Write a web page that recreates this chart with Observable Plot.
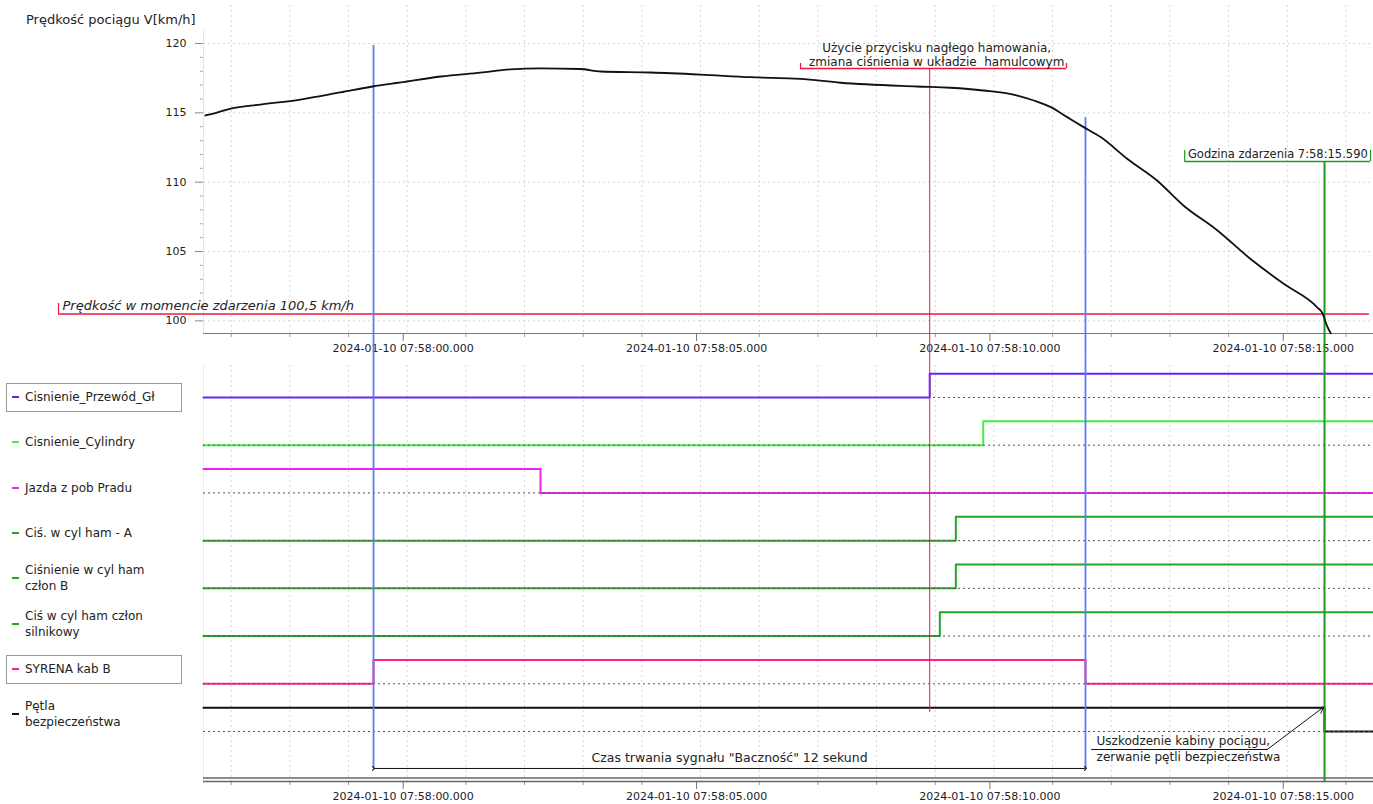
<!DOCTYPE html>
<html>
<head>
<meta charset="utf-8">
<script src="https://cdn.jsdelivr.net/npm/d3@7"></script>
<script src="https://cdn.jsdelivr.net/npm/@observablehq/plot@0.6"></script>
<style>
  body { margin: 0; background: #fff; }
  #root { position: relative; width: 1373px; height: 804px; overflow: hidden;
          font-family: "DejaVu Sans", Verdana, sans-serif; color: #222; }
  #root > svg { position: absolute; left: 0; overflow: visible; }
  .title { position: absolute; left: 26px; top: 12px; font-size: 13px; line-height: 16px; white-space: nowrap; }
  .lg-box { position: absolute; left: 6px; width: 174px; height: 27px; border: 1px solid #9a9a9a; }
  .lg-dash { position: absolute; left: 12px; width: 7px; height: 2px; }
  .lg-text { position: absolute; left: 25px; font-size: 12px; line-height: 16px; white-space: nowrap; transform: translateY(-50%); }
</style>
</head>
<body>
<div id="root"></div>
<script>
// ---------- data (times are seconds after 2024-01-10 07:58:00.000 UTC) ----------
const timeWindow = [-3.472, 16.47];
const majorTimeTicks = [0, 5, 10, 15];
const minorTimeTicks = [-3, -2, -1, 0, 1, 2, 3, 4, 5, 6, 7, 8, 9, 10, 11, 12, 13, 14, 15, 16];

const speedTitle = "Prędkość pociągu V[km/h]";
const speedDomain = [99.09, 123.1];
const speedMajorTicks = [100, 105, 110, 115, 120];
const speedMinorTicks = [101, 102, 103, 104, 106, 107, 108, 109, 111, 112, 113, 114, 116, 117, 118, 119];

const speedT = [-3.44, -3.27, -3.01, -2.50, -1.82, -1.14, -0.59, -0.11, 0.57, 1.25, 1.76, 2.27, 2.95, 3.30, 4.15, 5.00,
                5.85, 6.70, 7.39, 8.69, 9.26, 9.82, 10.40, 10.68, 10.97, 11.25, 11.53, 11.82, 12.27, 12.78, 13.23, 13.81,
                14.37, 14.94, 15.51, 15.60, 15.68, 15.74];
const speedV = [114.81, 114.98, 115.31, 115.60, 115.96, 116.47, 116.90, 117.19, 117.62, 117.90, 118.13, 118.20, 118.16, 117.98, 117.91, 117.76,
                117.57, 117.45, 117.17, 116.90, 116.81, 116.61, 116.25, 115.89, 115.41, 114.69, 113.97, 113.25, 111.69, 110.12, 108.32, 106.52,
                104.48, 102.67, 100.98, 100.55, 99.62, 99.11];

const eventSpeed = 100.5;
const eventSpeedLabel = "Prędkość w momencie zdarzenia 100,5 km/h";
const eventTime = 15.635;
const eventTimeLabel = "Godzina zdarzenia 7:58:15.590";
const brakeTime = 8.906;
const brakeLabel = ["Użycie przycisku nagłego hamowania,", "zmiana ciśnienia w układzie  hamulcowym"];
const alarmTimes = [-0.574, 11.561];
const alarmLabel = "Czas trwania sygnału \"Baczność\" 12 sekund";
const damageLabel = ["Uszkodzenie kabiny pociągu,", "zerwanie pętli bezpieczeństwa"];

const channelNames = [["Cisnienie_Przewód_Gł"], ["Cisnienie_Cylindry"], ["Jazda z pob Pradu"], ["Ciś. w cyl ham - A"],
                      ["Ciśnienie w cyl ham", "człon B"], ["Ciś w cyl ham człon", "silnikowy"], ["SYRENA kab B"], ["Pętla", "bezpieczeństwa"]];
const channelStart = [0, 0, 1, 0, 0, 0, 0, 1];
const channelToggles = [[8.906], [9.818], [2.272], [9.351], [9.351], [9.078], [-0.574, 11.561], [15.635]];

// ---------- styles ----------
const channelColors = ["#6226ee", "#44ee44", "#f022f0", "#22a822", "#22a822", "#22a822", "#ff2288", "#111111"];
const boxedChannels = [0, 6];
const RED = "#f0163f", BLUE = "#5b7cf6", GREEN = "#1c9c1c", GRID = "#d6d6d6";

// ---------- helpers ----------
const BASE = Date.UTC(2024, 0, 10, 7, 58, 0);
const at = s => new Date(BASE + Math.round(s * 1000));
const fmt = d3.utcFormat("%Y-%m-%d %H:%M:%S.%L");
const font = {fontFamily: "DejaVu Sans, Verdana, sans-serif", fontSize: "11px", color: "#222", background: "none", overflow: "visible"};

const speedData = speedT.map((t, k) => ({x: at(t), y: speedV[k]}));
const speedBelow = 97.15;       // speed value at the lower edge of the upper svg
const rowDomain = [-16.096, 1.551];

const steps = channelNames.map((n, i) => {
  const pts = [];
  let lvl = channelStart[i];
  pts.push({t: timeWindow[0], lvl});
  for (const tt of channelToggles[i]) { pts.push({t: tt, lvl}); lvl = 1 - lvl; pts.push({t: tt, lvl}); }
  pts.push({t: timeWindow[1], lvl});
  return pts.map(p => ({x: at(p.t), y: p.lvl - 2 * i}));
});

const xOpt = {type: "utc", domain: timeWindow.map(at), label: null, axis: null};

// ---------- upper panel: speed ----------
const speedPlot = Plot.plot({
  width: 1373, height: 360, marginLeft: 203, marginRight: 0, marginTop: 0, marginBottom: 27,
  x: xOpt,
  y: {domain: speedDomain, label: null, axis: null},
  style: font,
  marks: [
    Plot.ruleX(minorTimeTicks.map(s => ({x: at(s)})), {x: "x", stroke: GRID, strokeDasharray: "2,3", insetTop: 5}),
    Plot.ruleY(speedMajorTicks, {stroke: GRID, strokeDasharray: "2,3"}),
    Plot.ruleX([{x: at(timeWindow[0])}], {x: "x", stroke: "#e6e6e6", insetTop: 30}),
    Plot.axisY({ticks: speedMajorTicks, tickSize: 8, tickPadding: 9, stroke: "#888", fill: "#222", fontSize: 11, label: null}),
    Plot.axisY({ticks: speedMinorTicks, tickSize: 3, tickFormat: () => "", stroke: "#aaa", label: null}),
    Plot.axisX({ticks: majorTimeTicks.map(at), tickSize: 8, tickFormat: fmt, stroke: "#777", fill: "#222", fontSize: 11, label: null, dx: -4}),
    Plot.axisX({ticks: minorTimeTicks.filter(s => s % 5).map(at), tickSize: 4, tickFormat: () => "", stroke: "#999", label: null}),
    Plot.ruleY([speedDomain[0]], {stroke: "#777"}),
    // event speed line
    Plot.ruleY([{y: eventSpeed, x1: at(-5.943), x2: at(16.40)}], {y: "y", x1: "x1", x2: "x2", stroke: RED, strokeWidth: 1.5}),
    Plot.ruleX([{x: at(-5.943)}], {x: "x", y1: eventSpeed, y2: 101.25, stroke: RED, strokeWidth: 1.2}),
    Plot.text([{x: at(-5.875), y: 101.11, t: eventSpeedLabel}], {x: "x", y: "y", text: "t", textAnchor: "start", fontStyle: "italic", fontSize: 13, fill: "#222"}),
    // brake annotation
    Plot.ruleY([{y: 118.2, x1: at(6.704), x2: at(11.238)}], {y: "y", x1: "x1", x2: "x2", stroke: RED, strokeWidth: 1.5}),
    Plot.ruleX([{x: at(6.704)}, {x: at(11.238)}], {x: "x", y1: 118.2, y2: 118.56, stroke: RED, strokeWidth: 1.2}),
    Plot.ruleX([{x: at(brakeTime)}], {x: "x", y1: 118.2, y2: speedBelow, stroke: RED, strokeWidth: 1}),
    Plot.text([{x: at(9.025), y: 119.64, t: brakeLabel[0]}, {x: at(9.025), y: 118.63, t: brakeLabel[1]}],
              {x: "x", y: "y", text: "t", fontSize: 12, fill: "#222"}),
    // alarm lines
    Plot.ruleX([{x: at(alarmTimes[0]), y1: 119.86}, {x: at(alarmTimes[1]), y1: 114.66}], {x: "x", y1: "y1", y2: speedBelow, stroke: BLUE, strokeWidth: 1.8}),
    // event time
    Plot.ruleY([{y: 111.49, x1: at(13.252), x2: at(16.42)}], {y: "y", x1: "x1", x2: "x2", stroke: GREEN, strokeWidth: 1.5}),
    Plot.ruleX([{x: at(13.252)}, {x: at(16.42)}], {x: "x", y1: 111.49, y2: 112.29, stroke: GREEN, strokeWidth: 1.2}),
    Plot.ruleX([{x: at(eventTime)}], {x: "x", y1: 111.49, y2: speedBelow, stroke: GREEN, strokeWidth: 2}),
    Plot.text([{x: at(14.84), y: 112.0, t: eventTimeLabel}], {x: "x", y: "y", text: "t", fontSize: 11.5, fill: "#222"}),
    // speed curve
    Plot.line(speedData, {x: "x", y: "y", stroke: "#111", strokeWidth: 1.8, curve: "monotone-x"}),
  ]
});

// ---------- lower panel: binary signals ----------
const signalPlot = Plot.plot({
  width: 1373, height: 444, marginLeft: 203, marginRight: 0, marginTop: 0, marginBottom: 23,
  x: xOpt,
  y: {domain: rowDomain, label: null, axis: null},
  style: font,
  marks: [
    Plot.ruleX(minorTimeTicks.map(s => ({x: at(s)})), {x: "x", stroke: GRID, strokeDasharray: "2,3", insetTop: 5}),
    Plot.ruleX([{x: at(timeWindow[0])}], {x: "x", stroke: "#ececec", insetTop: 5}),
    ...steps.map((pts, i) => Plot.line(pts, {x: "x", y: "y", stroke: channelColors[i], strokeWidth: 2})),
    Plot.ruleY(channelNames.map((_, i) => -2 * i), {stroke: "#555", strokeDasharray: "2,3", strokeWidth: 1}),
    Plot.ruleX([{x: at(brakeTime)}], {x: "x", y1: rowDomain[1], y2: -13.2, stroke: RED, strokeWidth: 1}),
    Plot.ruleX(alarmTimes.map(s => ({x: at(s)})), {x: "x", y1: rowDomain[1], y2: -15.55, stroke: BLUE, strokeWidth: 1.8}),
    Plot.ruleX([{x: at(eventTime)}], {x: "x", y1: rowDomain[1], y2: rowDomain[0], stroke: GREEN, strokeWidth: 2}),
    // duration arrow
    Plot.link([{x1: at(alarmTimes[0]), x2: at(alarmTimes[1]), y: -15.55}], {x1: "x1", x2: "x2", y1: "y", y2: "y", stroke: "#111", strokeWidth: 1, markerStart: "arrow", markerEnd: "arrow"}),
    Plot.text([{x: at(5.494), y: -15.13, t: alarmLabel}], {x: "x", y: "y", text: "t", fontSize: 12.5, fill: "#222"}),
    // damage annotation
    Plot.link([{x1: at(11.659), x2: at(14.658), y: -14.755}], {x1: "x1", x2: "x2", y1: "y", y2: "y", stroke: "#111", strokeWidth: 1}),
    Plot.arrow([{x1: at(14.658), y1: -14.755, x2: at(15.618), y2: -12.98}], {x1: "x1", y1: "y1", x2: "x2", y2: "y2", stroke: "#111", strokeWidth: 1, headLength: 10}),
    Plot.text([{x: at(11.75), y: -14.42, t: damageLabel[0]}, {x: at(11.75), y: -15.09, t: damageLabel[1]}],
              {x: "x", y: "y", text: "t", textAnchor: "start", fontSize: 12, fill: "#222"}),
    // axis
    Plot.axisX({ticks: majorTimeTicks.map(at), tickSize: 8, tickFormat: fmt, stroke: "#777", fill: "#222", fontSize: 11, label: null, dx: -4}),
    Plot.axisX({ticks: minorTimeTicks.filter(s => s % 5).map(at), tickSize: 4, tickFormat: () => "", stroke: "#999", label: null}),
    Plot.ruleY([rowDomain[0]], {stroke: "#666", strokeWidth: 1.5}),
    Plot.ruleY([rowDomain[0]], {stroke: "#666", strokeWidth: 1.5, dy: -3.5}),
  ]
});

// ---------- assemble ----------
const root = document.getElementById("root");
const titleEl = document.createElement("div");
titleEl.className = "title";
titleEl.textContent = speedTitle;
root.appendChild(titleEl);
speedPlot.style.top = "0px";
signalPlot.style.top = "360px";
root.appendChild(speedPlot);
root.appendChild(signalPlot);

// legend (left column)
channelNames.forEach((lines, i) => {
  const cy = 397 + 45.3 * i;
  if (boxedChannels.includes(i)) {
    const b = document.createElement("div");
    b.className = "lg-box";
    b.style.top = (cy - 14) + "px";
    root.appendChild(b);
  }
  const d = document.createElement("div");
  d.className = "lg-dash";
  d.style.top = (cy - 1) + "px";
  d.style.background = channelColors[i];
  root.appendChild(d);
  const t = document.createElement("div");
  t.className = "lg-text";
  t.style.top = cy + "px";
  lines.forEach((ln, k) => {
    if (k) t.appendChild(document.createElement("br"));
    t.appendChild(document.createTextNode(ln));
  });
  root.appendChild(t);
});
</script>
</body>
</html>
